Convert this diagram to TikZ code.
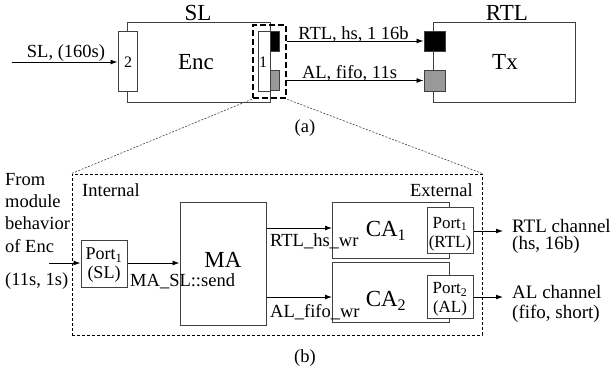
\documentclass[tikz,border=0pt]{standalone}
\usepackage{fontspec}
\setmainfont{Liberation Serif}
\usetikzlibrary{arrows.meta}
\definecolor{edge}{HTML}{404040}
\definecolor{grayport}{HTML}{999999}
\begin{document}
\begin{tikzpicture}[x=1pt,y=-1pt,
  box/.style={draw=edge, line width=1pt, inner sep=0pt, rectangle, fill=white},
  lbl/.style={font=\fontsize{18.5}{20}\selectfont, inner sep=0pt},
  rlbl/.style={font=\fontsize{19}{20}\selectfont, inner sep=0pt},
  small/.style={font=\fontsize{17}{19}\selectfont, inner sep=0pt, align=center},
  big/.style={font=\fontsize{23}{25}\selectfont, inner sep=0pt},
  arr/.style={-{Latex[length=7pt,width=5pt]}, line width=0.9pt, draw=black},
  thin/.style={line width=0.6pt, draw=edge, dash pattern=on 2pt off 1.5pt},
]
\useasboundingbox (0,0) rectangle (610,376);

% ---------- (a) ----------
\node[box, minimum width=143, minimum height=80] (enc) at (198.5,62) {};
\node[big] (enctxt) at (196,62) {Enc};
\node[big, anchor=base] (sl) at (198,20.5) {SL};
\node[box, minimum width=19, minimum height=60] (p2) at (127.5,61.5) {};
\node[lbl, font=\fontsize{16}{17}\selectfont] (p2t) at (128,62) {2};
\node[box, minimum width=12, minimum height=60] (p1) at (264,61) {};
\node[lbl, font=\fontsize{16}{17}\selectfont] (p1t) at (263,62) {1};
\node[box, fill=black, minimum width=9, minimum height=20] (eb) at (274.5,41) {};
\node[box, fill=grayport, minimum width=9, minimum height=20] (eg) at (274.5,80) {};
\node[draw=black, line width=2.6pt, dash pattern=on 6pt off 3pt, minimum width=33, minimum height=73, inner sep=0pt] (sel) at (269.5,61.5) {};

\node[box, minimum width=142, minimum height=80] (tx) at (504,62) {};
\node[big] (txt) at (505,62) {Tx};
\node[big, anchor=base] (rtl) at (507,20.5) {RTL};
\node[box, fill=black, minimum width=21, minimum height=20] (tb) at (434.5,41) {};
\node[box, fill=grayport, minimum width=21, minimum height=21] (tg) at (434.5,80.5) {};

\coordinate (slin) at (12,62);
\draw[arr] (slin) -- (slin -| p2.west);
\node[lbl, anchor=base] (sllbl) at (66,57) {SL, (160s)};
\draw[arr] (sel.east |- tb.west) -- (tb.west);
\node[lbl, anchor=base] (rtllbl) at (353.5,39) {RTL, hs, 1 16b};
\draw[arr] (sel.east |- tg.west) -- (tg.west);
\node[lbl, anchor=base] (allbl) at (349.5,78.5) {AL, fifo, 11s};
\node[lbl] (a) at (305,128) {(a)};

% ---------- (b) ----------
\node[draw=black, line width=0.9pt, dash pattern=on 3pt off 2pt, minimum width=410, minimum height=161, inner sep=0pt] (frame) at (277,254.5) {};
\draw[thin] (sel.south west) -- (frame.north west);
\draw[thin] (sel.south east) -- (frame.north east);

\node[lbl, anchor=base west] (int) at (82,196.5) {Internal};
\node[lbl, anchor=base east] (ext) at (473,196.5) {External};

\node[lbl, anchor=base west] (f1) at (5,185) {From};
\node[lbl, anchor=base west] (f2) at (5,207) {module};
\node[lbl, anchor=base west] (f3) at (5,229.5) {behavior};
\node[lbl, anchor=base west] (f4) at (5,252) {of Enc};
\node[lbl, anchor=base west] (f5) at (5,285) {(11s, 1s)};

\node[box, minimum width=46, minimum height=47] (psl) at (104,263.5) {};
\node[lbl, align=center, font=\fontsize{18}{18.5}\selectfont, anchor=base] (pslt) at (104,278) {Port\textsubscript{1}\\(SL)};
\coordinate (behin) at (49,263);
\draw[arr] (behin) -- (behin -| psl.west);

\node[box, minimum width=86, minimum height=123] (ma) at (223,263.5) {};
\node[big] (matxt) at (223,260) {MA};
\draw[arr] (behin -| psl.east) -- (behin -| ma.west);
\node[lbl, anchor=base west] (masend) at (130,286) {MA\_SL::send};

\node[box, minimum width=117, minimum height=56] (ca1) at (390.5,230.5) {};
\node[big] (ca1t) at (386,231) {CA\textsubscript{1}};
\node[box, minimum width=46, minimum height=46] (prtl) at (450,230) {};
\node[small, anchor=base] (prtlt) at (450,247) {Port\textsubscript{1}\\(RTL)};

\node[box, minimum width=117, minimum height=60] (ca2) at (390.5,292) {};
\node[big] (ca2t) at (386,301) {CA\textsubscript{2}};
\node[box, minimum width=46, minimum height=43] (pal) at (450,296.5) {};
\node[small, anchor=base] (palt) at (450,312.5) {Port\textsubscript{2}\\(AL)};

\coordinate (ca1in) at (332,228);
\coordinate (ca2in) at (332,297);
\draw[arr] (ma.east |- ca1in) -- (ca1in);
\draw[arr] (ma.east |- ca2in) -- (ca2in);
\node[lbl, anchor=base west] (hswr) at (270,246) {RTL\_hs\_wr};
\node[lbl, anchor=base west] (fifowr) at (270,317) {AL\_fifo\_wr};

\coordinate (out1) at (503,231);
\coordinate (out2) at (503,297);
\draw[arr] (prtl.east |- out1) -- (out1);
\draw[arr] (pal.east |- out2) -- (out2);
\node[rlbl, anchor=base west] (r1) at (512,232) {RTL channel};
\node[rlbl, anchor=base west] (r2) at (512,249.5) {(hs, 16b)};
\node[rlbl, anchor=base west] (r3) at (512,298) {AL channel};
\node[rlbl, anchor=base west] (r4) at (512,318) {(fifo, short)};

\node[lbl] (b) at (305,358) {(b)};
\end{tikzpicture}
\end{document}
